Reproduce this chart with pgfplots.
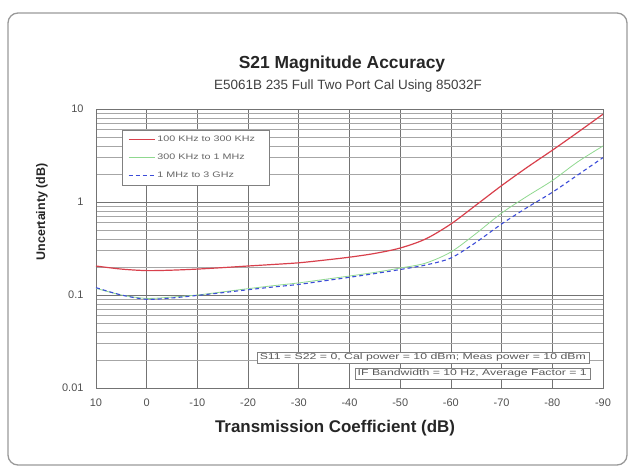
\documentclass[border=0pt]{standalone}
\usepackage{pgfplots}
\pgfplotsset{compat=1.18}
\usepackage{fontspec}
\setmainfont{Liberation Sans}
\definecolor{redc}{HTML}{D8404C}
\definecolor{greenc}{HTML}{8FD88F}
\definecolor{bluec}{HTML}{3C4CD8}
\definecolor{ticc}{HTML}{505050}
\newcommand{\legtxt}[1]{\makebox[104bp][l]{\textcolor{black!60}{\scalebox{1.35}[1]{#1}}}}
\begin{document}
\begin{tikzpicture}
\useasboundingbox (0bp,0bp) rectangle (630bp,469bp);
\draw[gray!80, line width=1.3bp, rounded corners=10bp] (8bp,4bp) rectangle (627bp,456bp);
\node[font=\bfseries\fontsize{17.5}{20}\selectfont, text=black!85] at (342bp,405bp) {S21 Magnitude Accuracy};
\node[font=\fontsize{13.5}{16}\selectfont, text=black!75] at (348bp,383bp) {E5061B 235 Full Two Port Cal Using 85032F};
\node[font=\bfseries\fontsize{12.5}{14}\selectfont, rotate=90, text=black!85] at (42bp,257bp) {Uncertainty (dB)};
\node[font=\bfseries\fontsize{17}{20}\selectfont, text=black!85] at (335bp,41bp) {Transmission Coefficient (dB)};
\begin{axis}[
  at={(96bp,81bp)}, anchor=south west,
  width=507bp, height=279bp, scale only axis,
  ymode=log, ymin=0.01, ymax=10,
  xmin=-90, xmax=10, x dir=reverse,
  xtick={10,0,-10,-20,-30,-40,-50,-60,-70,-80,-90},
  ytick={0.01,0.1,1,10},
  yticklabels={0.01,0.1,1,10},
  xticklabel style={font=\fontsize{11}{12}\selectfont, text=ticc},
  yticklabel style={font=\fontsize{11}{12}\selectfont, text=ticc},
  /pgf/number format/assume math mode=true,
  major tick length=0pt, minor tick length=0pt,
  xmajorgrids, ymajorgrids, yminorgrids,
  major grid style={black!55, line width=0.6bp},
  minor grid style={black!35, line width=0.6bp},
  axis line style={black!55, line width=0.8bp},
  xticklabel shift=7bp, yticklabel shift=9bp,
  legend cell align=left,
  legend style={at={(0.051,0.925)}, anchor=north west, draw=black!50, fill=white,
    font=\fontsize{8}{9}\selectfont, row sep=7bp,
    inner xsep=6bp, inner ysep=4bp},
  legend image code/.code={\draw[#1] (0bp,0bp) -- (26bp,0bp);},
]
\addplot[forget plot, color=redc, line width=1.2bp, smooth] coordinates {
(10,0.205) (5,0.19) (0,0.183) (-5,0.185) (-10,0.19) (-15,0.197) (-20,0.205)
(-25,0.213) (-30,0.222) (-35,0.237) (-40,0.255) (-45,0.28) (-50,0.32)
(-55,0.40) (-60,0.58) (-65,0.93) (-70,1.5) (-75,2.35) (-80,3.6) (-85,5.6) (-90,8.8)};
\addplot[forget plot, color=greenc, line width=0.8bp, smooth] coordinates {
(10,0.118) (5,0.10) (0,0.092) (-5,0.095) (-10,0.10) (-15,0.108) (-20,0.117)
(-25,0.126) (-30,0.135) (-35,0.147) (-40,0.16) (-45,0.175) (-50,0.195)
(-55,0.22) (-60,0.29) (-65,0.46) (-70,0.76) (-75,1.15) (-80,1.7) (-85,2.7) (-90,4.0)};
\addplot[forget plot, color=bluec, line width=1.1bp, dash pattern=on 4bp off 3bp, smooth] coordinates {
(10,0.12) (5,0.10) (0,0.09) (-5,0.093) (-10,0.099) (-15,0.106) (-20,0.114)
(-25,0.122) (-30,0.13) (-35,0.142) (-40,0.155) (-45,0.17) (-50,0.188)
(-55,0.21) (-60,0.25) (-65,0.37) (-70,0.58) (-75,0.87) (-80,1.27) (-85,1.95) (-90,3.0)};
\addlegendimage{draw=redc, line width=1.4bp}
\addlegendentry{\legtxt{100 KHz to 300 KHz}}
\addlegendimage{draw=greenc, line width=1bp}
\addlegendentry{\legtxt{300 KHz to 1 MHz}}
\addlegendimage{draw=bluec, line width=1.2bp, dash pattern=on 4bp off 3bp}
\addlegendentry{\legtxt{1 MHz to 3 GHz}}
\end{axis}
\node[draw=black!50, fill=white, anchor=north east, font=\fontsize{8.5}{9}\selectfont, text=black!65,
  inner xsep=3bp, inner ysep=1bp, minimum height=11bp] at (589bp,117bp) {\scalebox{1.45}[1]{S11 = S22 = 0, Cal power = 10 dBm; Meas power = 10 dBm}};
\node[draw=black!50, fill=white, anchor=north east, font=\fontsize{8.5}{9}\selectfont, text=black!65,
  inner xsep=3bp, inner ysep=1bp, minimum height=11bp] at (590bp,101bp) {\scalebox{1.45}[1]{IF Bandwidth = 10 Hz, Average Factor = 1}};
\end{tikzpicture}
\end{document}
